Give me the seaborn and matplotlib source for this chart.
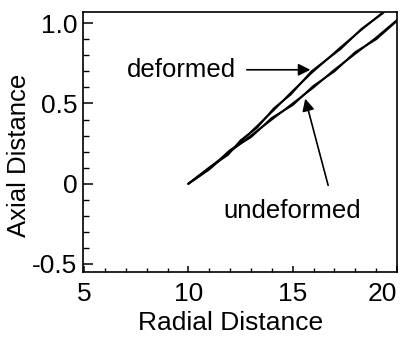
import matplotlib
matplotlib.use("Agg")
import matplotlib.pyplot as plt
import pandas as pd
import seaborn as sns
from matplotlib.ticker import FixedLocator, MultipleLocator

# ─── Data ─────────────────────────────────────────────────────────────────────
deformed_x   = [10.0, 11.0, 11.9, 12.5, 13.3, 14.1, 14.9, 15.9, 17.3, 18.3, 19.35]
deformed_y_a = [0.0, 0.09, 0.19, 0.26, 0.36, 0.46, 0.565, 0.69, 0.85, 0.96, 1.07]
deformed_y_b = [0.0, 0.10, 0.18, 0.27, 0.35, 0.47, 0.555, 0.70, 0.84, 0.965, 1.065]

undeformed_x   = [10, 11, 12, 13, 14, 15, 16, 17, 18, 19, 20]
undeformed_y_a = [0.0, 0.10, 0.20, 0.30, 0.40, 0.50, 0.60, 0.71, 0.81, 0.91, 1.02]
undeformed_y_b = [0.0, 0.09, 0.21, 0.29, 0.41, 0.49, 0.61, 0.70, 0.82, 0.90, 1.015]

x_ticks = [5, 10, 15, 20]
x_tick_labels = ["5", "10", "15", "20"]
y_ticks = [-0.5, 0, 0.5, 1.0]
y_tick_labels = ["-0.5", "0", "0.5", "1.0"]

# ─── Style ────────────────────────────────────────────────────────────────────
sns.set_theme(style="white")
plt.rcParams["font.family"] = ["Liberation Sans", "DejaVu Sans"]
plt.rcParams["text.color"] = "black"

fig = plt.figure(figsize=(4.01, 3.41), dpi=100)
ax = fig.add_axes([0.207, 0.2023, 0.783, 0.7625])

traces = [
    (deformed_x, deformed_y_a),
    (deformed_x, deformed_y_b),
    (undeformed_x, undeformed_y_a),
    (undeformed_x, undeformed_y_b),
]
for xs, ys in traces:
    df = pd.DataFrame({"x": xs, "y": ys})
    sns.lineplot(data=df, x="x", y="y", ax=ax, color="black", linewidth=1.4,
                 sort=False, estimator=None)

ax.set_xlim(4.95, 20.0)
ax.set_ylim(-0.55, 1.07)

ax.xaxis.set_major_locator(FixedLocator(x_ticks))
ax.set_xticklabels(x_tick_labels)
ax.xaxis.set_minor_locator(MultipleLocator(1))
ax.yaxis.set_major_locator(FixedLocator(y_ticks))
ax.set_yticklabels(y_tick_labels)
ax.yaxis.set_minor_locator(MultipleLocator(0.1))

ax.tick_params(axis="both", which="both", direction="in", labelsize=19,
               color="black", labelcolor="black", bottom=True, left=True,
               top=False, right=False)
ax.tick_params(axis="y", which="major", length=7, width=1.1, pad=4)
ax.tick_params(axis="y", which="minor", length=4, width=1.0)
ax.tick_params(axis="x", which="major", length=4, width=1.1, pad=7)
ax.tick_params(axis="x", which="minor", length=3, width=1.0)
# last x label sits flush with the right frame, as in the scan
ax.get_xticklabels()[-1].set_horizontalalignment("right")

for spine in ax.spines.values():
    spine.set_color("black")
    spine.set_linewidth(1.2)

ax.set_xlabel("Radial Distance", fontsize=19, color="black")
ax.set_ylabel("Axial Distance", fontsize=18.5, color="black")
ax.xaxis.set_label_coords(0.47, -0.15)
ax.yaxis.set_label_coords(-0.165, 0.45)

# ─── Annotations ──────────────────────────────────────────────────────────────
arrow = dict(arrowstyle="-|>", color="black", lw=1.2, mutation_scale=18,
             shrinkA=0, shrinkB=0)
ax.text(9.65, 0.71, "deformed", fontsize=18.5, color="black",
        ha="center", va="center")
ax.annotate("", xy=(15.85, 0.71), xytext=(12.8, 0.71), arrowprops=arrow)

ax.text(14.97, -0.17, "undeformed", fontsize=18.5, color="black",
        ha="center", va="center")
ax.annotate("", xy=(15.6, 0.53), xytext=(16.7, -0.01), arrowprops=arrow)

fig.savefig("out.png", dpi=100)
